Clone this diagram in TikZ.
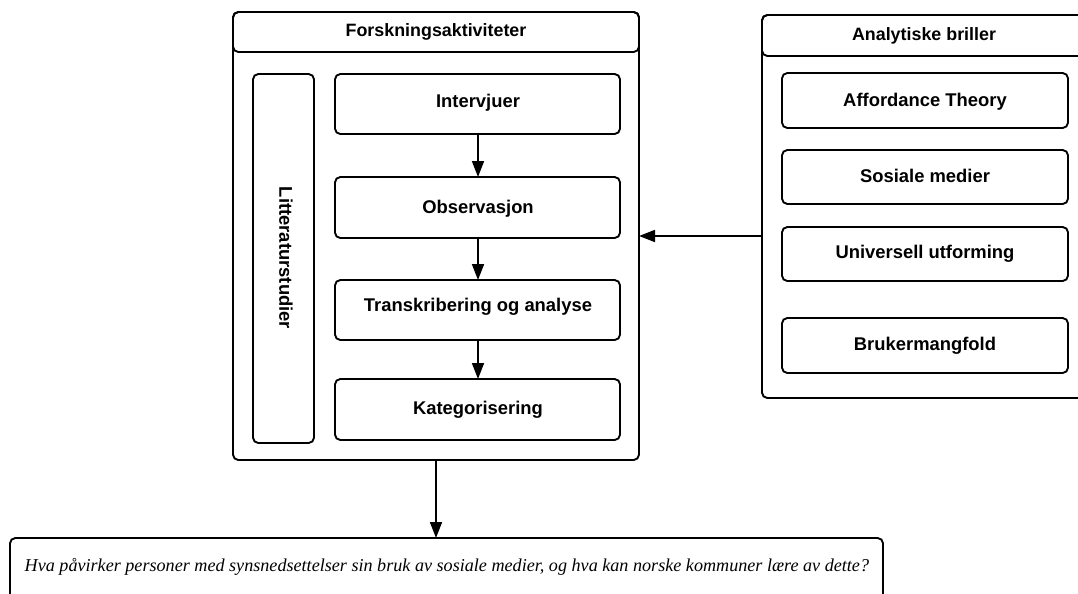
\documentclass[tikz,border=0pt]{standalone}
\usepackage{fontspec}
\setmainfont{Liberation Sans}
\newfontfamily\qfont{Liberation Serif}
\usetikzlibrary{arrows.meta}
\begin{document}
\begin{tikzpicture}[x=0.75pt,y=-0.75pt,
  frame/.style={draw=black,line width=1.4pt,rounded corners=4pt},
  box/.style={draw=black,line width=1.4pt,rounded corners=4pt,fill=white},
  lbl/.style={font=\bfseries\fontsize{13.8}{16}\selectfont,anchor=base},
  hdr/.style={font=\bfseries\fontsize{13.4}{16}\selectfont,anchor=base},
  arr/.style={line width=1.3pt,-{Triangle[length=12pt,width=9pt]}}]
\clip (0,0) rectangle (1078,593);
\useasboundingbox (0,0) rectangle (1078,593);

% Research activities container
\draw[frame] (233,12) rectangle (639,460);
\draw[frame] (233,12) rectangle (639,52);
\node[hdr] (fa) at (436,36) {Forskningsaktiviteter};
\coordinate (faL) at (639,236);
\coordinate (faB) at (436,460);

\draw[box] (253,74) rectangle (314,443);
\node[font=\bfseries\fontsize{13.8}{16}\selectfont,rotate=-90] (lit) at (286,258) {Litteraturstudier};

\draw[box] (335,74) rectangle (620,134);
\node[lbl] (int) at (478,107) {Intervjuer};
\coordinate (intB) at (478,134);
\draw[box] (335,177) rectangle (620,238);
\node[lbl] (obs) at (478,213) {Observasjon};
\coordinate (obsT) at (478,177);
\coordinate (obsB) at (478,238);
\draw[box] (335,280) rectangle (620,340);
\node[lbl] (tra) at (478,311) {Transkribering og analyse};
\coordinate (traT) at (478,280);
\coordinate (traB) at (478,340);
\draw[box] (335,379) rectangle (620,440);
\node[lbl] (kat) at (478,414) {Kategorisering};
\coordinate (katT) at (478,379);

\draw[arr] (intB) -- (obsT);
\draw[arr] (obsB) -- (traT);
\draw[arr] (traB) -- (katT);

% Analytical lenses container
\draw[frame] (762,15) rectangle (1086,398);
\draw[frame] (762,15) rectangle (1086,56);
\node[hdr] (ab) at (924,40) {Analytiske briller};
\coordinate (abL) at (762,236);

\draw[box] (782,73) rectangle (1068,128);
\node[lbl] (aff) at (925,106) {Affordance Theory};
\draw[box] (782,150) rectangle (1068,204);
\node[lbl] (som) at (925,182) {Sosiale medier};
\draw[box] (782,227) rectangle (1068,281);
\node[lbl] (uu) at (925,258) {Universell utforming};
\draw[box] (782,318) rectangle (1068,373);
\node[lbl] (bm) at (925,350) {Brukermangfold};

\draw[arr] (abL) -- (faL);

% Research question
\draw[box] (10,538) rectangle (883,620);
\node[font=\qfont\itshape\fontsize{13.6}{16}\selectfont,anchor=base west] (q) at (20,571)
  {Hva påvirker personer med synsnedsettelser sin bruk av sosiale medier, og hva kan norske kommuner lære av dette?};
\coordinate (qT) at (436,538);
\draw[arr] (faB) -- (qT);
\end{tikzpicture}
\end{document}
